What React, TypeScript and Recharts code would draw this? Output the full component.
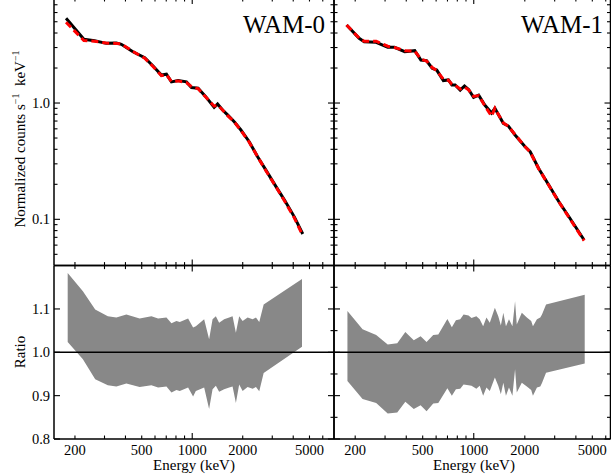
import React from "react";
import { ComposedChart, Line, Area, XAxis, YAxis, ReferenceLine } from "recharts";

const FONT = '"Liberation Serif", "Times New Roman", serif';

// WAM-0 spectrum (keV, counts/s/keV)
const energy0 = [177, 226, 262, 307, 353, 378, 443, 521, 584, 655, 702, 752, 824, 924, 990, 1084, 1200, 1351, 1416, 1517, 1625, 1780, 1951, 2187, 2454, 2750, 3158, 3541, 4060, 4560];
const counts0 = [5.35, 3.53, 3.43, 3.26, 3.28, 3.2, 2.76, 2.45, 2.08, 1.74, 1.77, 1.52, 1.56, 1.52, 1.36, 1.34, 1.14, 0.92, 0.98, 0.87, 0.79, 0.69, 0.586, 0.465, 0.345, 0.265, 0.191, 0.147, 0.105, 0.0748];
const model0 = [4.95, 3.45, 3.4, 3.28, 3.25, 3.22, 2.78, 2.43, 2.06, 1.72, 1.75, 1.53, 1.55, 1.5, 1.38, 1.33, 1.13, 0.94, 0.96, 0.87, 0.78, 0.69, 0.58, 0.46, 0.345, 0.262, 0.19, 0.145, 0.103, 0.0725];

// WAM-1 spectrum
const energy1 = [178, 211, 226, 266, 311, 341, 392, 449, 488, 527, 569, 605, 662, 709, 743, 777, 832, 882, 932, 998, 1069, 1161, 1273, 1332, 1494, 1600, 1752, 2009, 2151, 2414, 2768, 3176, 3640, 4473];
const counts1 = [4.69, 3.6, 3.37, 3.33, 3.01, 3.01, 2.76, 2.82, 2.34, 2.31, 1.99, 1.92, 1.56, 1.58, 1.43, 1.43, 1.29, 1.4, 1.31, 1.12, 1.17, 0.961, 0.82, 0.9, 0.669, 0.634, 0.531, 0.421, 0.381, 0.274, 0.197, 0.1417, 0.1053, 0.0664];
const model1 = [4.69, 3.62, 3.4, 3.4, 3.08, 3.0, 2.82, 2.8, 2.38, 2.3, 2.02, 1.9, 1.6, 1.57, 1.45, 1.42, 1.32, 1.37, 1.3, 1.14, 1.16, 0.95, 0.77, 0.9, 0.675, 0.63, 0.535, 0.42, 0.38, 0.272, 0.196, 0.141, 0.104, 0.0655];

// ratio bands
const ratioEnergy0 = [181, 223, 264, 314, 353, 405, 486, 571, 626, 702, 752, 805, 843, 945, 1012, 1051, 1178, 1261, 1322, 1383, 1447, 1550, 1661, 1740, 1821, 1905, 1997, 2139, 2292, 2398, 2509, 2666, 4513];
const ratioHigh0 = [1.183, 1.141, 1.099, 1.083, 1.08, 1.087, 1.078, 1.083, 1.078, 1.08, 1.067, 1.072, 1.07, 1.078, 1.057, 1.06, 1.076, 1.03, 1.076, 1.083, 1.068, 1.076, 1.08, 1.083, 1.045, 1.083, 1.072, 1.08, 1.076, 1.08, 1.07, 1.11, 1.169];
const ratioLow0 = [1.024, 0.984, 0.938, 0.924, 0.921, 0.928, 0.92, 0.924, 0.919, 0.921, 0.907, 0.913, 0.911, 0.919, 0.898, 0.911, 0.919, 0.869, 0.915, 0.923, 0.909, 0.915, 0.919, 0.921, 0.883, 0.926, 0.911, 0.92, 0.916, 0.92, 0.91, 0.952, 1.013];

const ratioEnergy1 = [180, 221, 266, 311, 354, 395, 443, 486, 527, 577, 618, 699, 743, 785, 832, 871, 932, 970, 1036, 1084, 1136, 1188, 1243, 1332, 1395, 1445, 1494, 1548, 1613, 1690, 1752, 1793, 1920, 2056, 2181, 2233, 2358, 2467, 2525, 2668, 4510];
const ratioHigh1 = [1.095, 1.053, 1.04, 1.018, 1.021, 1.047, 1.028, 1.037, 1.024, 1.04, 1.041, 1.077, 1.058, 1.074, 1.076, 1.087, 1.085, 1.079, 1.083, 1.076, 1.06, 1.08, 1.068, 1.103, 1.083, 1.062, 1.091, 1.06, 1.076, 1.06, 1.118, 1.064, 1.091, 1.08, 1.072, 1.06, 1.076, 1.08, 1.087, 1.11, 1.133];
const ratioLow1 = [0.934, 0.892, 0.883, 0.859, 0.861, 0.886, 0.869, 0.878, 0.864, 0.882, 0.883, 0.917, 0.9, 0.915, 0.916, 0.926, 0.924, 0.923, 0.916, 0.923, 0.9, 0.919, 0.911, 0.942, 0.923, 0.903, 0.93, 0.9, 0.919, 0.9, 0.961, 0.907, 0.93, 0.921, 0.913, 0.9, 0.919, 0.921, 0.929, 0.953, 0.974];

// ticks
const energyTicks = [200, 300, 400, 500, 600, 700, 800, 900, 1000, 2000, 3000, 4000, 5000, 6000];
const energyLabels = [200, 500, 1000, 2000, 5000];
const countTicks = [0.05, 0.06, 0.07, 0.08, 0.09, 0.1, 0.2, 0.3, 0.4, 0.5, 0.6, 0.7, 0.8, 0.9, 1, 2, 3, 4, 5, 6, 7];
const countMajor = [0.1, 1];
const ratioTicks = [0.8, 0.85, 0.9, 0.95, 1.0, 1.05, 1.1, 1.15];
const ratioMajor = [0.8, 0.9, 1.0, 1.1];

const spec0 = energy0.map((e, i) => ({ e, counts: counts0[i], model: model0[i] }));
const spec1 = energy1.map((e, i) => ({ e, counts: counts1[i], model: model1[i] }));
const band0 = ratioEnergy0.map((e, i) => ({ e, range: [ratioLow0[i], ratioHigh0[i]] }));
const band1 = ratioEnergy1.map((e, i) => ({ e, range: [ratioLow1[i], ratioHigh1[i]] }));

const W = 611;
const H = 490;
const SHIFT = 10;
const AX = 1; // axes need a non-zero size to render
const LEFT_X = [54, 334];
const RIGHT_X = [334, 610.5];
const TOP_Y = [-2, 265.6];
const BOT_Y = [265.6, 439];

const tickStyle = { stroke: "#000", strokeWidth: 1.1 };
const axisLine = { stroke: "#000", strokeWidth: 1.5 };

const xTick = (side: "top" | "bottom", labels: number[]) => (p: any) => {
  const v = p.payload.value;
  const len = v === 1000 ? 6 : 3.5;
  const d = side === "bottom" ? -len : len;
  return (
    <g>
      <line x1={p.x} x2={p.x} y1={p.y} y2={p.y + d} {...tickStyle} />
      {labels.includes(v) ? (
        <text x={p.x} y={p.y + 16} textAnchor="middle" fontFamily={FONT} fontSize={14.5} fill="#000">
          {v}
        </text>
      ) : null}
    </g>
  );
};

const yTick = (side: "left" | "right", majors: number[], labels: boolean, showMinor = true) => (p: any) => {
  const v = p.payload.value;
  const major = majors.some((m) => Math.abs(m - v) < 1e-9);
  if (!major && !showMinor) return <g />;
  const len = major ? 6 : 3.5;
  const d = side === "left" ? len : -len;
  return (
    <g>
      <line x1={p.x} x2={p.x + d} y1={p.y} y2={p.y} {...tickStyle} />
      {labels && major ? (
        <text x={p.x - 4} y={p.y + 5} textAnchor="end" fontFamily={FONT} fontSize={14.5} fill="#000">
          {v.toFixed(1)}
        </text>
      ) : null}
    </g>
  );
};

function frameAxes(
  xDomain: number[],
  xLabels: number[],
  yDomain: number[],
  yLog: boolean,
  yTicks: number[],
  yMajor: number[],
  yLabels: boolean,
  leftMinor: boolean
) {
  const common = { interval: 0 as const, tickLine: false, tickSize: 0, tickMargin: 0, axisLine, allowDataOverflow: true };
  return [
    <XAxis key="xb" xAxisId="b" dataKey="e" type="number" scale="log" domain={xDomain} ticks={energyTicks} height={AX} tick={xTick("bottom", xLabels)} {...common} />,
    <XAxis key="xt" xAxisId="t" orientation="top" dataKey="e" type="number" scale="log" domain={xDomain} ticks={energyTicks} height={AX} tick={xTick("top", [])} {...common} />,
    <YAxis key="yl" yAxisId="l" type="number" scale={yLog ? "log" : "linear"} domain={yDomain} ticks={yTicks} width={AX} tick={yTick("left", yMajor, yLabels, leftMinor)} {...common} />,
    <YAxis key="yr" yAxisId="r" orientation="right" type="number" scale={yLog ? "log" : "linear"} domain={yDomain} ticks={yTicks} width={AX} tick={yTick("right", yMajor, false)} {...common} />,
  ];
}

const margins = (xs: number[], ys: number[]) => ({
  left: xs[0] - AX,
  right: W - xs[1] - AX,
  top: ys[0] + SHIFT - AX,
  bottom: H - (ys[1] + SHIFT) - AX,
});

function SpectrumPanel({ data, xs, xMax, labels }: { data: any[]; xs: number[]; xMax: number; labels: boolean }) {
  return (
    <div style={{ position: "absolute", left: 0, top: -SHIFT }}>
      <ComposedChart width={W} height={H} data={data} margin={margins(xs, TOP_Y)}>
        {frameAxes([150, xMax], [], [0.04, 8], true, countTicks, countMajor, labels, true)}
        <Line xAxisId="b" yAxisId="l" type="linear" dataKey="counts" stroke="#000" strokeWidth={3} dot={false} isAnimationActive={false} />
        <Line xAxisId="b" yAxisId="l" type="linear" dataKey="model" stroke="#ff0000" strokeWidth={3} strokeDasharray="7 4" dot={false} isAnimationActive={false} />
      </ComposedChart>
    </div>
  );
}

function RatioPanel({ data, xs, xMax, labels }: { data: any[]; xs: number[]; xMax: number; labels: boolean }) {
  return (
    <div style={{ position: "absolute", left: 0, top: -SHIFT }}>
      <ComposedChart width={W} height={H} data={data} margin={margins(xs, BOT_Y)}>
        {frameAxes([150, xMax], energyLabels, [0.8, 1.2], false, ratioTicks, ratioMajor, labels, !labels)}
        <Area xAxisId="b" yAxisId="l" type="linear" dataKey="range" fill="#888888" fillOpacity={1} stroke="none" isAnimationActive={false} />
        <ReferenceLine xAxisId="b" yAxisId="l" y={1} stroke="#000" strokeWidth={1.5} />
      </ComposedChart>
    </div>
  );
}

export default function App() {
  return (
    <div style={{ position: "absolute", left: 0, top: 0, width: 611, height: 476, overflow: "hidden", background: "#fff" }}>
      <SpectrumPanel data={spec0} xs={LEFT_X} xMax={7000} labels={true} />
      <SpectrumPanel data={spec1} xs={RIGHT_X} xMax={6400} labels={false} />
      <RatioPanel data={band0} xs={LEFT_X} xMax={7000} labels={true} />
      <RatioPanel data={band1} xs={RIGHT_X} xMax={6400} labels={false} />
      <svg width={611} height={476} style={{ position: "absolute", left: 0, top: 0, pointerEvents: "none" }} fontFamily={FONT} fill="#000">
        <text x={325} y={33} textAnchor="end" fontSize={25}>WAM-0</text>
        <text x={603} y={33} textAnchor="end" fontSize={25}>WAM-1</text>
        <text transform="translate(25,139) rotate(-90)" textAnchor="middle" fontSize={15}>
          Normalized counts s
          <tspan dy={-6} fontSize={10}>−1</tspan>
          <tspan dy={6}>{"\u00a0\u00a0keV"}</tspan>
          <tspan dy={-6} fontSize={10}>−1</tspan>
        </text>
        <text transform="translate(25,352) rotate(-90)" textAnchor="middle" fontSize={15}>Ratio</text>
        <text x={194} y={470} textAnchor="middle" fontSize={15}>Energy (keV)</text>
        <text x={474} y={470} textAnchor="middle" fontSize={15}>Energy (keV)</text>
      </svg>
    </div>
  );
}
